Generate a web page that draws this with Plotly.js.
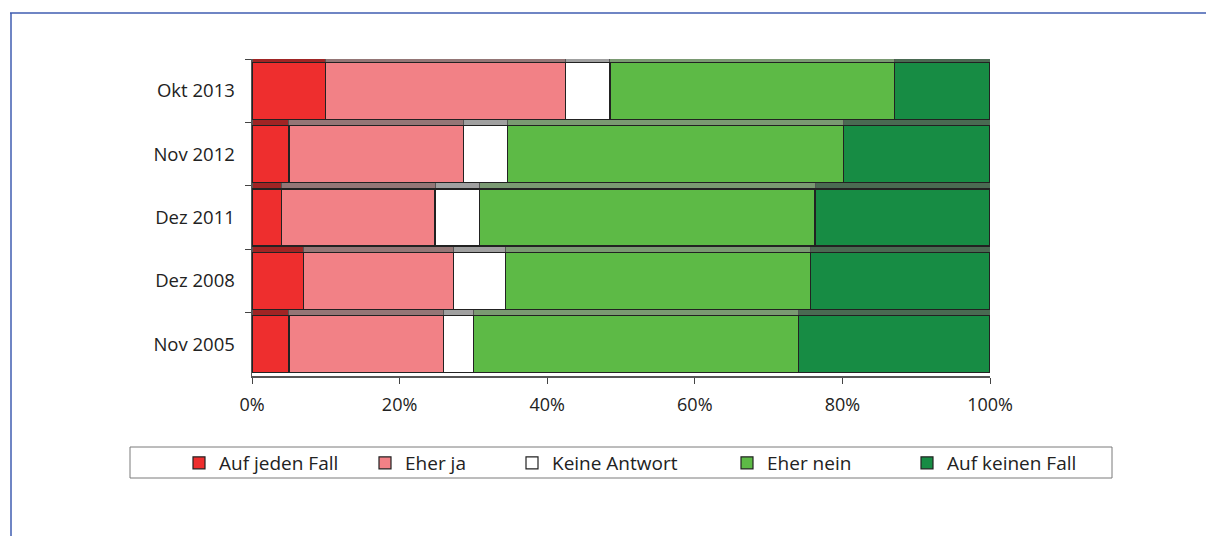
<!DOCTYPE html>
<html>
<head>
<meta charset="utf-8">
<script src="https://cdn.plot.ly/plotly-3.0.1.min.js"></script>
<style>
  html, body { margin: 0; padding: 0; background: #fff; }
  #chart { width: 1206px; height: 536px; }
</style>
</head>
<body>
<div id="chart"></div>
<script>
// ---- data ----
const categories = ['Okt 2013', 'Nov 2012', 'Dez 2011', 'Dez 2008', 'Nov 2005'];
const seriesNames = ['Auf jeden Fall', 'Eher ja', 'Keine Antwort', 'Eher nein', 'Auf keinen Fall'];
const aufJedenFall  = [10,   5,    4,    7,    5];
const eherJa        = [32.5, 23.7, 20.8, 20.3, 21];
const keineAntwort  = [6,    5.9,  6,    7,    4];
const eherNein      = [38.6, 45.6, 45.5, 41.4, 44];
const aufKeinenFall = [12.9, 19.8, 23.7, 24.3, 26];
const xTickVals = [0, 20, 40, 60, 80, 100];
const xTickText = xTickVals.map(v => v + '%');

// ---- styles ----
const colors = ['#ee2e2e', '#f28186', '#ffffff', '#5dba46', '#178c44'];
const shadowColors = ['#a02424', '#947676', '#a0a0a0', '#7a9a72', '#4a6a52'];
const seriesValues = [aufJedenFall, eherJa, keineAntwort, eherNein, aufKeinenFall];

// layout geometry (pixels -> paper)
const L = 252, R = 990, T = 59, B = 376;
const px = x => (x - L) / (R - L);
const py = y => (B - y) / (B - T);

const traces = [];
// 3D "top face" strips behind the bars
seriesValues.forEach((vals, i) => {
  traces.push({
    type: 'bar', orientation: 'h', y: categories, x: vals,
    yaxis: 'y', xaxis: 'x', showlegend: false, hoverinfo: 'skip',
    marker: { color: shadowColors[i], line: { color: '#555555', width: 1 } }
  });
});
// main bars
const legendTextStart = [213, 399, 546, 761, 941];
seriesValues.forEach((vals, i) => {
  traces.push({
    type: 'bar', orientation: 'h', y: categories, x: vals, name: seriesNames[i],
    yaxis: 'y2', xaxis: 'x',
    legend: i === 0 ? 'legend' : 'legend' + (i + 1),
    marker: { color: colors[i], line: { color: '#222222', width: 1.2 } }
  });
});

const shift = 6 / ((B - T) / categories.length); // strip height in category units
const n = categories.length;

const legendFont = { family: 'Open Sans, sans-serif', size: 19, color: '#222222' };
const layout = {
  width: 1206, height: 536,
  margin: { l: L, r: 1206 - R, t: T, b: 536 - B },
  paper_bgcolor: '#ffffff', plot_bgcolor: 'rgba(0,0,0,0)',
  barmode: 'stack', bargap: 0.1,
  font: { family: 'Open Sans, sans-serif', size: 18, color: '#222222' },
  xaxis: {
    range: [0, 100], tickmode: 'array', tickvals: xTickVals, ticktext: xTickText,
    showgrid: false, zeroline: false, showline: true, linecolor: '#555555', linewidth: 1.5,
    ticks: 'outside', ticklen: 6, tickcolor: '#444444', ticklabelstandoff: 6,
    tickfont: { family: 'Open Sans, sans-serif', size: 18, color: '#222222' }, fixedrange: true
  },
  yaxis: {
    type: 'category', categoryarray: categories, categoryorder: 'array',
    range: [n - 0.5 + shift, -0.5 + shift],
    showticklabels: false, showgrid: false, zeroline: false, showline: false, ticks: '', fixedrange: true
  },
  yaxis2: {
    type: 'category', categoryarray: categories, categoryorder: 'array',
    overlaying: 'y', side: 'left',
    range: [n - 0.5, -0.5],
    showgrid: false, zeroline: false, showline: true, linecolor: '#555555', linewidth: 1.5,
    ticks: 'outside', tickson: 'boundaries', ticklen: 6, tickcolor: '#444444',
    ticklabelstandoff: 12,
    tickfont: { family: 'Open Sans, sans-serif', size: 18.5, color: '#222222' }, fixedrange: true
  },
  shapes: [
    // blue page frame
    { type: 'line', xref: 'paper', yref: 'paper', x0: px(10), x1: px(1210), y0: py(13), y1: py(13),
      line: { color: '#3f5cb0', width: 1.5 } },
    { type: 'line', xref: 'paper', yref: 'paper', x0: px(11), x1: px(11), y0: py(13), y1: py(540),
      line: { color: '#3f5cb0', width: 1.5 } },
    // legend frame
    { type: 'rect', xref: 'paper', yref: 'paper', x0: px(130), x1: px(1112), y0: py(447), y1: py(478),
      line: { color: '#7a7a7a', width: 1 }, fillcolor: 'rgba(0,0,0,0)' }
  ]
};
// one legend per series so each entry sits where it does in the reference
legendTextStart.forEach((t, i) => {
  const key = i === 0 ? 'legend' : 'legend' + (i + 1);
  layout[key] = {
    orientation: 'h', x: px(t - 34), xanchor: 'left', y: py(463), yanchor: 'middle',
    bgcolor: 'rgba(0,0,0,0)', borderwidth: 0, font: legendFont, itemclick: false, itemdoubleclick: false
  };
});

Plotly.newPlot('chart', traces, layout, { displayModeBar: false, staticPlot: true });
</script>
</body>
</html>
